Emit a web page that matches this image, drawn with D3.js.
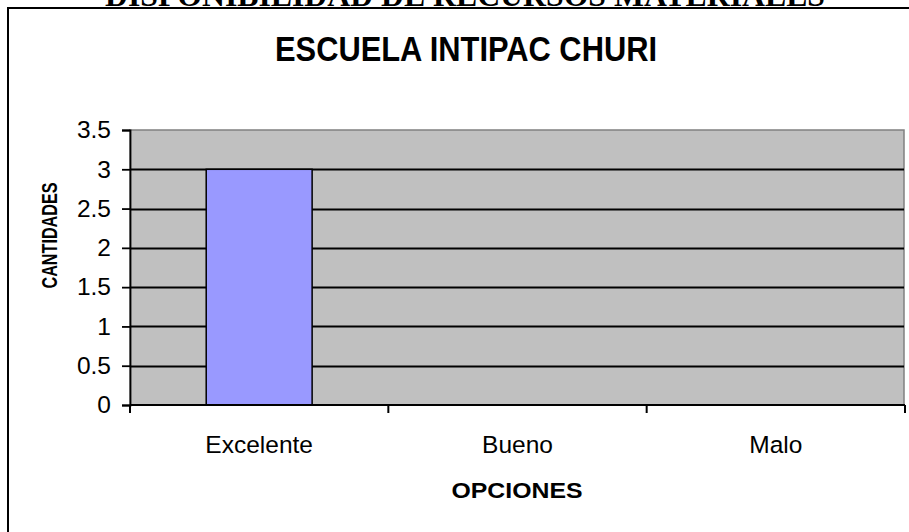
<!DOCTYPE html>
<html lang="es">
<head>
<meta charset="UTF-8">
<title>Escuela Intipac Churi</title>
<script src="https://d3js.org/d3.v7.min.js"></script>
<style>
  html, body { margin: 0; padding: 0; background: #fff; overflow: hidden; }
  text { font-family: "Liberation Sans", Arial, sans-serif; fill: #000; }
</style>
</head>
<body>
<div id="chart"></div>
<script>
// chart data
const categories = ["Excelente", "Bueno", "Malo"];
const values = [3, 0, 0];
const yTicks = [0, 0.5, 1, 1.5, 2, 2.5, 3, 3.5];

const width = 909;
const height = 532;
const plot = { left: 130, right: 904, top: 130, bottom: 405 };

const svg = d3.select("#chart").append("svg")
    .attr("width", width)
    .attr("height", height);

// heading of the page, cut off at the top as in the source
svg.append("text")
    .attr("x", 465)
    .attr("y", 6)
    .attr("text-anchor", "middle")
    .style("font-family", "'Liberation Serif', 'Times New Roman', serif")
    .style("font-weight", "bold")
    .style("font-size", "32px")
    .attr("textLength", 720)
    .attr("lengthAdjust", "spacingAndGlyphs")
    .text("DISPONIBILIDAD DE RECURSOS MATERIALES");

// chart area frame (runs off the right and bottom)
svg.append("rect")
    .attr("x", 8)
    .attr("y", 8)
    .attr("width", 940)
    .attr("height", 560)
    .attr("fill", "none")
    .attr("stroke", "#000")
    .attr("stroke-width", 2);

const x = d3.scaleBand()
    .domain(categories)
    .range([plot.left, plot.right + 1])
    .padding(0);

const y = d3.scaleLinear()
    .domain([0, 3.5])
    .range([plot.bottom, plot.top]);

// plot area
svg.append("rect")
    .attr("x", plot.left)
    .attr("y", plot.top)
    .attr("width", plot.right - plot.left)
    .attr("height", plot.bottom - plot.top)
    .attr("fill", "#c0c0c0")
    .attr("stroke", "#808080")
    .attr("stroke-width", 1.5);

// gridlines
svg.append("g")
    .selectAll("line")
    .data(yTicks.filter(t => t > 0 && t < 3.5))
    .enter()
    .append("line")
    .attr("x1", plot.left)
    .attr("x2", plot.right)
    .attr("y1", d => Math.round(y(d)) + 0.5)
    .attr("y2", d => Math.round(y(d)) + 0.5)
    .attr("stroke", "#000")
    .attr("stroke-width", 1.8);

// bars
const barW = x.bandwidth() * 0.41;
svg.append("g")
    .selectAll("rect")
    .data(values)
    .enter()
    .append("rect")
    .attr("x", (d, i) => x(categories[i]) + (x.bandwidth() - barW) / 2)
    .attr("y", d => y(d))
    .attr("width", barW)
    .attr("height", d => y(0) - y(d))
    .attr("fill", "#9999ff")
    .attr("stroke", "#000")
    .attr("stroke-width", 1.5);

// y axis
const yAxis = svg.append("g")
    .attr("transform", "translate(" + plot.left + ",0)")
    .call(d3.axisLeft(y).tickValues(yTicks).tickSize(8).tickPadding(11)
        .tickFormat(d => String(d)));
yAxis.selectAll("text").style("font-size", "24.5px");
yAxis.selectAll("line, path").attr("stroke", "#000").attr("stroke-width", 1.8);

// x axis: ticks at band edges
const xAxis = svg.append("g")
    .attr("transform", "translate(0," + plot.bottom + ")");
xAxis.append("line")
    .attr("x1", plot.left)
    .attr("x2", plot.right + 1)
    .attr("stroke", "#000")
    .attr("stroke-width", 2);
xAxis.selectAll(".tick")
    .data(categories.concat(["end"]))
    .enter()
    .append("line")
    .attr("x1", (d, i) => i < categories.length ? x(d) : plot.right + 1)
    .attr("x2", (d, i) => i < categories.length ? x(d) : plot.right + 1)
    .attr("y1", 0)
    .attr("y2", 8)
    .attr("stroke", "#000")
    .attr("stroke-width", 2);
xAxis.selectAll(".label")
    .data(categories)
    .enter()
    .append("text")
    .attr("x", d => x(d) + x.bandwidth() / 2)
    .attr("y", 48)
    .attr("text-anchor", "middle")
    .style("font-size", "24.5px")
    .text(d => d);

// titles
svg.append("text")
    .attr("x", 466)
    .attr("y", 61)
    .attr("text-anchor", "middle")
    .style("font-weight", "bold")
    .style("font-size", "35px")
    .attr("textLength", 382)
    .attr("lengthAdjust", "spacingAndGlyphs")
    .text("ESCUELA INTIPAC CHURI");

svg.append("text")
    .attr("x", (plot.left + plot.right) / 2)
    .attr("y", 498)
    .attr("text-anchor", "middle")
    .style("font-weight", "bold")
    .style("font-size", "22.5px")
    .attr("textLength", 131)
    .attr("lengthAdjust", "spacingAndGlyphs")
    .text("OPCIONES");

svg.append("text")
    .attr("transform", "translate(57,235.5) rotate(-90)")
    .attr("text-anchor", "middle")
    .style("font-weight", "bold")
    .style("font-size", "21.5px")
    .attr("textLength", 106)
    .attr("lengthAdjust", "spacingAndGlyphs")
    .text("CANTIDADES");
</script>
</body>
</html>
